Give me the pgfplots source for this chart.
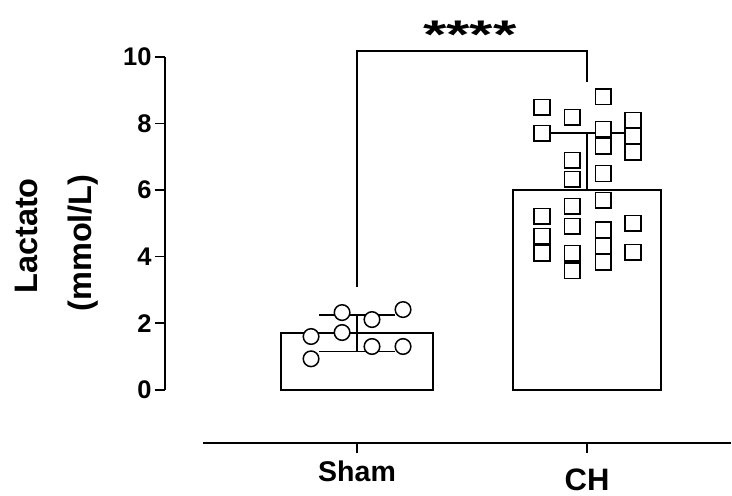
\documentclass[border=0pt]{standalone}
\usepackage{fontspec}
\setmainfont{Liberation Sans}
\usepackage{pgfplots}
\pgfplotsset{compat=1.18}
\begin{document}
\begin{tikzpicture}
\useasboundingbox (0,0) rectangle (732pt,496pt);
\begin{axis}[
  at={(165pt,53pt)}, anchor=south west,
  scale only axis, width=566pt, height=386pt,
  xmin=0.165, xmax=2.626, ymin=-1.6, ymax=10,
  clip=false,
  axis x line*=bottom, axis y line*=left,
  axis line style={draw=none},
  tick align=outside,
  major tick length=10pt,
  tick style={line width=1.5pt, black},
  ytick={0,2,4,6,8,10},
  xtick={1,2},
  xticklabels={{\fontsize{28.5}{28.5}\selectfont Sham},{\raisebox{-9.5pt}{\fontsize{31}{31}\selectfont CH}}},
  xticklabel style={anchor=base, yshift=-28pt},
  yticklabel style={font=\fontsize{25.5}{25.5}\selectfont\bfseries},
  xticklabel style={font=\bfseries},
  /pgf/number format/assume math mode=true,
  bar shift=0pt,
]
% Bars with SD error bars
\addplot[ybar, bar width=152pt, fill=white, draw=black, line width=1.5pt,
  error bars/.cd, y dir=both, y explicit,
  error bar style={line width=1.5pt, black},
  error mark options={mark size=38pt, line width=1.5pt, black, rotate=90}]
  coordinates {(1,1.70) +- (0,0.55)};
\addplot[ybar, bar width=148pt, fill=white, draw=black, line width=1.5pt,
  error bars/.cd, y dir=plus, y explicit,
  error bar style={line width=1.5pt, black},
  error mark options={mark size=38pt, line width=1.5pt, black, rotate=90}]
  coordinates {(2,6.00) +- (0,1.71)};
% Individual points
\addplot[only marks, mark=*, mark size=7.8pt, mark options={fill=white, draw=black, line width=1.5pt}]
  coordinates {(0.800,1.60) (0.800,0.93) (0.935,2.32) (0.935,1.72)
               (1.065,2.11) (1.065,1.30) (1.200,2.41) (1.200,1.30)};
\addplot[only marks, mark=square*, mark size=7.8pt, mark options={fill=white, draw=black, line width=1.5pt}]
  coordinates {(1.804,8.49) (1.804,7.71) (1.804,5.21) (1.804,4.61) (1.804,4.10)
               (1.935,8.19) (1.935,6.90) (1.935,6.33) (1.935,5.51) (1.935,4.91) (1.935,4.10) (1.935,3.58)
               (2.070,8.80) (2.070,7.83) (2.070,7.32) (2.070,6.50) (2.070,5.69) (2.070,4.80) (2.070,4.31) (2.070,3.83)
               (2.200,8.10) (2.200,7.62) (2.200,7.14) (2.200,5.00) (2.200,4.13)};
% axis lines
\draw[line width=1.8pt] (axis cs:0.165,0) -- (axis cs:0.165,10);
\draw[line width=1.8pt] (axis cs:0.330,-1.6) -- (axis cs:2.626,-1.6);
% significance bracket
\draw[line width=1.3pt] (axis cs:1,3.1) -- (axis cs:1,10.18) -- (axis cs:2,10.18) -- (axis cs:2,9.25);
\node[anchor=base, font=\bfseries] at (axis cs:1.49,10.27) {\scalebox{1.5}[1]{\fontsize{40}{40}\selectfont ****}};
\end{axis}
\node[rotate=90, font=\fontsize{32.5}{32.5}\selectfont\bfseries] at (26pt,260pt) {Lactato};
\node[rotate=90, font=\fontsize{32.5}{32.5}\selectfont\bfseries] at (83.5pt,253pt) {(mmol/L)};
\end{tikzpicture}
\end{document}
